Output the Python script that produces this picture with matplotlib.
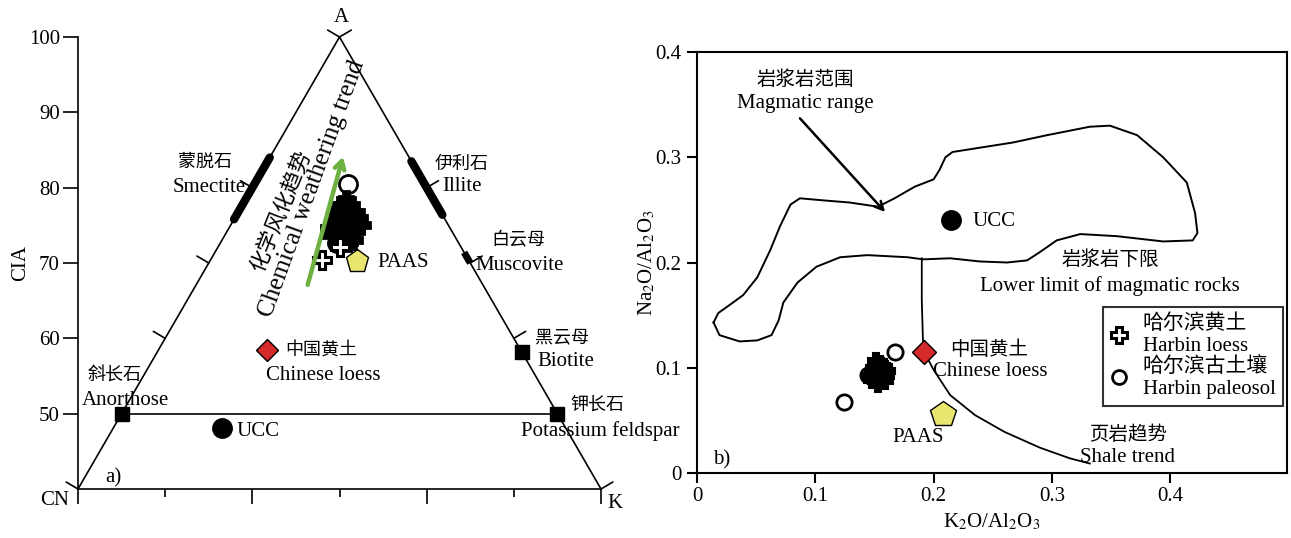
import numpy as np
import matplotlib.pyplot as plt
from matplotlib.lines import Line2D

plt.rcParams['font.family'] = ['Liberation Serif', 'Noto Sans CJK SC']
plt.rcParams['mathtext.fontset'] = 'stix'
plt.rcParams['axes.unicode_minus'] = False

# ---------------- a) A-CN-K 三角图 数据 (CIA, K) ----------------
cia_ticks = [50, 60, 70, 80, 90, 100]
edge_tick_cia = [40, 60, 70, 80, 100]

# 哈尔滨黄土（密集部分）
loess_cia = [78.4, 77.7, 77.0, 76.8, 76.0, 75.4, 75.0, 74.4, 76.0, 73.7, 73.3,
             74.4, 72.9, 72.8, 76.4, 77.7, 74.6, 75.0, 76.4, 73.0, 74.9, 73.7]
loess_k = [11.5, 12.4, 11.6, 13.4, 12.7, 11.8, 13.7, 12.9, 14.1, 12.3, 14.0,
           14.6, 13.6, 14.6, 13.3, 11.4, 11.6, 15.0, 11.4, 15.1, 12.9, 14.3]
# 哈尔滨黄土（分散点）
loess_cia2 = [70.4, 72.1]
loess_k2 = [12.8, 14.0]
# 哈尔滨古土壤
paleo_cia = [80.5, 72.6]
paleo_k = [10.7, 13.4]

# 参考物质
ucc_a = (48.1, 12.5)
loess_cn_a = (58.5, 12.4)
paas_a = (70.3, 16.9)
anorthose = (50, 0)
kfeldspar = (50, 50)
biotite = (58.2, 41.8)
muscovite_cia = [70.0, 71.4]
smectite_cia = [75.8, 84.0]
illite_cia = [76.4, 83.5]
trend_cia = [67.1, 84.1]
trend_k = [12.8, 8.35]

# ---------------- b) Na2O/Al2O3 - K2O/Al2O3 数据 ----------------
b_ticks = [0, 0.1, 0.2, 0.3, 0.4]
b_ticklabels = ['0', '0.1', '0.2', '0.3', '0.4']

mag_x = [0.014, 0.018, 0.028, 0.039, 0.051, 0.062, 0.070, 0.079, 0.087, 0.107,
         0.129, 0.153, 0.167, 0.184, 0.200, 0.205, 0.210, 0.216, 0.233, 0.267,
         0.296, 0.332, 0.349, 0.372, 0.394, 0.414, 0.421, 0.423, 0.419, 0.394,
         0.355, 0.324, 0.304, 0.290, 0.279, 0.262, 0.239, 0.214, 0.191, 0.178,
         0.144, 0.121, 0.101, 0.085, 0.073, 0.069, 0.063, 0.051, 0.036, 0.019]
mag_y = [0.143, 0.152, 0.160, 0.169, 0.186, 0.212, 0.234, 0.255, 0.261, 0.259,
         0.257, 0.253, 0.261, 0.272, 0.279, 0.288, 0.300, 0.305, 0.308, 0.314,
         0.321, 0.329, 0.330, 0.321, 0.300, 0.276, 0.247, 0.228, 0.221, 0.220,
         0.225, 0.227, 0.221, 0.210, 0.202, 0.200, 0.201, 0.204, 0.203, 0.205,
         0.207, 0.205, 0.196, 0.181, 0.162, 0.145, 0.131, 0.126, 0.125, 0.131]

shale_x = [0.190, 0.190, 0.191, 0.192, 0.200, 0.214, 0.235, 0.260, 0.290, 0.315, 0.332]
shale_y = [0.204, 0.164, 0.126, 0.115, 0.098, 0.074, 0.055, 0.039, 0.024, 0.014, 0.009]

hb_loess_x = [0.150, 0.152, 0.155, 0.148, 0.153, 0.157, 0.160, 0.151, 0.156,
              0.149, 0.158, 0.154, 0.161, 0.147, 0.152, 0.159]
hb_loess_y = [0.100, 0.094, 0.104, 0.088, 0.085, 0.096, 0.092, 0.106, 0.089,
              0.095, 0.101, 0.098, 0.097, 0.092, 0.090, 0.087]
hb_paleo_x = [0.167, 0.124, 0.1445]
hb_paleo_y = [0.115, 0.0675, 0.093]

ucc_b = (0.2147, 0.2404)
loess_cn_b = (0.192, 0.115)
paas_b = (0.208, 0.056)
arrow_b = [(0.087, 0.337), (0.159, 0.248)]

yellow = '#e8e66e'
red = '#d42a2a'
green = '#6fb043'


def tx(cia, k):
    # 三角图横坐标
    return np.asarray(k, dtype=float) + np.asarray(cia, dtype=float) / 2


fig = plt.figure(figsize=(12.91, 5.38), dpi=100)

# ======================= a) =======================
ax = fig.add_axes([78 / 1291, 49 / 538, 523 / 1291, 452 / 538])
ax.set_xlim(20, 80)
ax.set_ylim(40, 100)
ax.spines['top'].set_visible(False)
ax.spines['right'].set_visible(False)
ax.spines['left'].set_bounds(40, 100)
ax.spines['bottom'].set_bounds(20, 80)
for s in ['left', 'bottom']:
    ax.spines[s].set_linewidth(1.2)
ax.set_yticks(cia_ticks)
ax.set_xticks([20, 40, 60, 80])
ax.set_xticks([30, 50, 70], minor=True)
ax.set_xticklabels([])
ax.tick_params(axis='y', length=11, width=1.2, labelsize=15, pad=2)
ax.tick_params(axis='x', which='major', length=11, width=1.2)
ax.tick_params(axis='x', which='minor', length=6, width=1.2)
ax.set_ylabel('CIA', fontsize=15)
ax.yaxis.set_label_coords(-0.092, 0.5)

# 三角形边
ax.plot(tx([40, 100, 40], [0, 0, 60]), [40, 100, 40], 'k-', lw=1.2, clip_on=False)
ax.plot(tx([50, 50], [anorthose[1], kfeldspar[1]]), [50, 50], 'k-', lw=1.2)

# 边上刻度
for c in edge_tick_cia:
    ax.annotate('', xy=(tx(c, 0), c), xytext=(-8.5, 5), textcoords='offset points',
                arrowprops=dict(arrowstyle='-', lw=1.2, shrinkA=0, shrinkB=0),
                annotation_clip=False)
    ax.annotate('', xy=(tx(c, 100 - c), c), xytext=(8.5, 5), textcoords='offset points',
                arrowprops=dict(arrowstyle='-', lw=1.2, shrinkA=0, shrinkB=0),
                annotation_clip=False)

# 矿物范围
ax.plot(tx(smectite_cia, [0, 0]), smectite_cia, 'k-', lw=6, solid_capstyle='round')
ax.plot(tx(illite_cia, [100 - c for c in illite_cia]), illite_cia, 'k-', lw=6,
        solid_capstyle='round')
ax.plot(tx(muscovite_cia, [100 - c for c in muscovite_cia]), muscovite_cia, 'k-',
        lw=5, solid_capstyle='butt')

# 化学风化趋势
ax.annotate('', xy=(tx(trend_cia[1], trend_k[1]), trend_cia[1]),
            xytext=(tx(trend_cia[0], trend_k[0]), trend_cia[0]),
            arrowprops=dict(arrowstyle='->,head_length=0.6,head_width=0.35',
                            color=green, lw=3.2, shrinkA=0, shrinkB=0), zorder=6)

ax.plot(tx(paleo_cia, paleo_k), paleo_cia, 'o', ms=13, mfc='white', mec='k', mew=2, zorder=3)
ax.plot(tx(loess_cia, loess_k), loess_cia, 'P', ms=13, mfc='k', mec='k', mew=2, zorder=4)
ax.plot(tx(loess_cia2, loess_k2), loess_cia2, 'P', ms=13, mfc='white', mec='k', mew=2.2,
        zorder=4)

ax.plot(tx(*ucc_a), ucc_a[0], 'o', ms=14, color='k')
ax.plot(tx(*loess_cn_a), loess_cn_a[0], 'D', ms=11, mfc=red, mec='k', mew=1)
ax.plot(tx(*paas_a), paas_a[0], 'p', ms=17, mfc=yellow, mec='k', mew=1)
for m in [anorthose, kfeldspar, biotite]:
    ax.plot(tx(*m), m[0], 's', ms=10, color='k', clip_on=False, zorder=5)

fs = 15
cfs = 13
ax.text(50.2, 102.6, 'A', fontsize=fs, ha='center', va='center')
ax.text(17.3, 38.5, 'CN', fontsize=fs, ha='center', va='center')
ax.text(81.6, 38.1, 'K', fontsize=fs, ha='center', va='center')
ax.text(34.6, 83.4, '蒙脱石', fontsize=cfs, ha='center', va='center')
ax.text(35.1, 80.0, 'Smectite', fontsize=fs, ha='center', va='center')
ax.text(64.0, 83.1, '伊利石', fontsize=cfs, ha='center', va='center')
ax.text(64.0, 80.1, 'Illite', fontsize=fs, ha='center', va='center')
ax.text(70.5, 72.9, '白云母', fontsize=cfs, ha='center', va='center')
ax.text(70.7, 69.7, 'Muscovite', fontsize=fs, ha='center', va='center')
ax.text(75.5, 60.1, '黑云母', fontsize=cfs, ha='center', va='center')
ax.text(76.0, 56.9, 'Biotite', fontsize=fs, ha='center', va='center')
ax.text(24.2, 55.1, '斜长石', fontsize=cfs, ha='center', va='center')
ax.text(25.4, 51.8, 'Anorthose', fontsize=fs, ha='center', va='center')
ax.text(79.6, 51.1, '钾长石', fontsize=cfs, ha='center', va='center')
ax.text(79.9, 47.7, 'Potassium feldspar', fontsize=fs, ha='center', va='center')
ax.text(38.2, 47.6, 'UCC', fontsize=fs, ha='left', va='center')
ax.text(43.8, 58.4, '中国黄土', fontsize=cfs, ha='left', va='center')
ax.text(48.1, 55.0, 'Chinese loess', fontsize=fs, ha='center', va='center')
ax.text(54.3, 70.1, 'PAAS', fontsize=fs, ha='left', va='center')
ax.text(24.1, 41.5, 'a)', fontsize=fs, ha='center', va='center')
ax.text(43.3, 76.8, '化学风化趋势', fontsize=15.5, ha='center', va='center', rotation=68)
ax.text(46.9, 79.8, 'Chemical weathering trend', fontsize=18, ha='center',
        va='center', rotation=70)

# ======================= b) =======================
bx = fig.add_axes([697 / 1291, 65 / 538, 590 / 1291, 421 / 538])
bx.set_xlim(0, 0.4987)
bx.set_ylim(0, 0.4)
for s in bx.spines.values():
    s.set_linewidth(1.5)
bx.set_xticks(b_ticks)
bx.set_xticklabels(b_ticklabels)
bx.set_yticks(b_ticks)
bx.set_yticklabels(b_ticklabels)
bx.tick_params(length=7, width=1.5, labelsize=15, pad=4)
bx.tick_params(axis='x', pad=3)
bx.set_xlabel('K$_2$O/Al$_2$O$_3$', fontsize=15, labelpad=4)
bx.set_ylabel('Na$_2$O/Al$_2$O$_3$', fontsize=15)
bx.yaxis.set_label_coords(-0.068, 0.5)

bx.plot(mag_x + mag_x[:1], mag_y + mag_y[:1], 'k-', lw=1.4, solid_joinstyle='round')
bx.plot(shale_x, shale_y, 'k-', lw=1.3)
bx.annotate('', xy=arrow_b[1], xytext=arrow_b[0],
            arrowprops=dict(arrowstyle='->,head_length=0.6,head_width=0.3',
                            color='k', lw=1.8, shrinkA=0, shrinkB=0))

bx.plot(hb_paleo_x, hb_paleo_y, 'o', ms=11, mfc='white', mec='k', mew=2, zorder=3)
bx.plot(hb_loess_x, hb_loess_y, 'P', ms=11, mfc='k', mec='k', mew=1.5, zorder=4)
bx.plot(*ucc_b, 'o', ms=14, color='k')
bx.plot(*loess_cn_b, 'D', ms=12, mfc=red, mec='k', mew=1, zorder=5)
bx.plot(*paas_b, 'p', ms=19, mfc=yellow, mec='k', mew=1)

bx.text(0.0913, 0.3734, '岩浆岩范围', fontsize=14, ha='center', va='center')
bx.text(0.0913, 0.3506, 'Magmatic range', fontsize=fs, ha='center', va='center')
bx.text(0.2325, 0.2385, 'UCC', fontsize=fs, ha='left', va='center')
bx.text(0.349, 0.2024, '岩浆岩下限', fontsize=14, ha='center', va='center')
bx.text(0.349, 0.1777, 'Lower limit of magmatic rocks', fontsize=fs, ha='center', va='center')
bx.text(0.2139, 0.1169, '中国黄土', fontsize=14, ha='left', va='center')
bx.text(0.1995, 0.0960, 'Chinese loess', fontsize=fs, ha='left', va='center')
bx.text(0.1868, 0.0342, 'PAAS', fontsize=fs, ha='center', va='center')
bx.text(0.3643, 0.0361, '页岩趋势', fontsize=14, ha='center', va='center')
bx.text(0.3643, 0.0143, 'Shale trend', fontsize=fs, ha='center', va='center')
bx.text(0.0211, 0.0124, 'b)', fontsize=fs, ha='center', va='center')

handles = [Line2D([], [], ls='', marker='P', ms=11, mfc='white', mec='k', mew=2.2),
           Line2D([], [], ls='', marker='o', ms=10, mfc='white', mec='k', mew=2)]
labels = ['哈尔滨黄土\nHarbin loess', '哈尔滨古土壤\nHarbin paleosol']
leg = bx.legend(handles, labels, loc='upper right', bbox_to_anchor=(0.993, 0.394),
                fontsize=15, frameon=True, fancybox=False, edgecolor='k',
                borderpad=0.35, handlelength=0.8, handletextpad=0.75,
                labelspacing=0.05, borderaxespad=0)
leg.get_frame().set_linewidth(1.5)

fig.savefig('out.png', dpi=100)
